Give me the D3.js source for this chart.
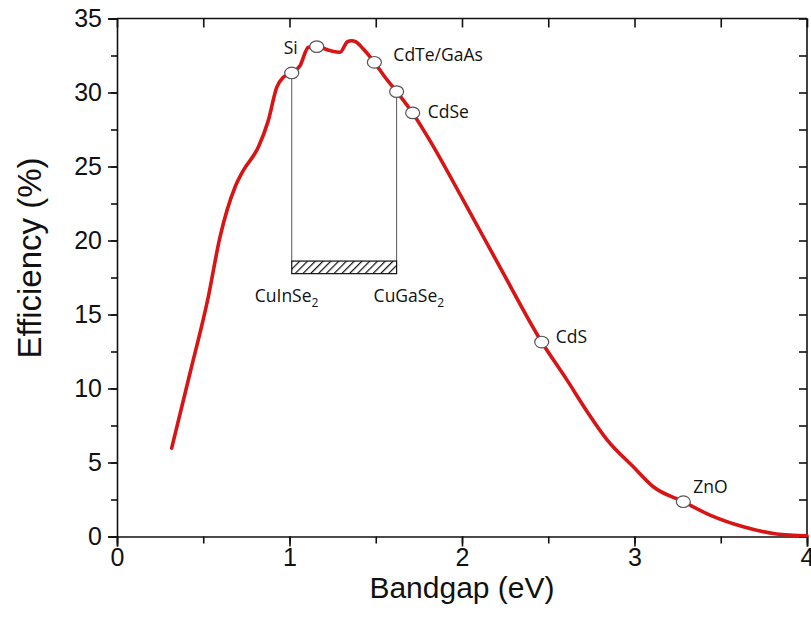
<!DOCTYPE html>
<html>
<head>
<meta charset="utf-8">
<script src="https://cdn.jsdelivr.net/npm/d3@7"></script>
<style>
  html, body { margin: 0; padding: 0; background: #fff; }
  svg { display: block; }
</style>
</head>
<body>
<svg id="chart" width="811" height="619"></svg>
<script>
// Theoretical efficiency limit vs. absorber bandgap
const bandgap = [0.317, 0.423, 0.529, 0.597, 0.684, 0.732, 0.819, 0.877, 0.926, 0.964,
  1.013, 1.061, 1.109, 1.158, 1.235, 1.293, 1.335, 1.360, 1.385, 1.428, 1.492, 1.554,
  1.621, 1.714, 1.814, 2.008, 2.220, 2.462, 2.610, 2.725, 2.840, 2.993, 3.109,
  3.283, 3.438, 3.631, 3.824, 4.0];
const efficiency = [5.97, 11.03, 16.18, 20.23, 23.60, 24.73, 26.30, 28.10, 30.35, 31.03,
  31.32, 31.81, 33.05, 33.10, 32.83, 32.72, 33.42, 33.50, 33.42, 32.94, 32.04, 31.03,
  30.06, 28.62, 26.75, 22.71, 18.20, 13.14, 10.55, 8.45, 6.55, 4.71, 3.36,
  2.35, 1.45, 0.66, 0.17, 0.05];

// Materials marked on the curve
const materialNames = ["CuInSe2", "Si", "CdTe/GaAs", "CuGaSe2", "CdSe", "CdS", "ZnO"];
const materialGap = [1.013, 1.158, 1.492, 1.621, 1.714, 2.462, 3.283];
const materialEff = [31.32, 33.10, 32.04, 30.06, 28.62, 13.14, 2.35];

// CIGS alloy range (bandgap span and efficiency band of the hatched bar)
const alloyRange = [1.013, 1.621];
const alloyBand = [17.76, 18.61];

const xTicks = [0, 1, 2, 3, 4];
const yTicks = [0, 5, 10, 15, 20, 25, 30, 35];

const W = 811, H = 619;
const m = { left: 117, right: 4, top: 18.5, bottom: 82.5 };
const x = d3.scaleLinear().domain([0, 4]).range([m.left, W - m.right]);
const y = d3.scaleLinear().domain([0, 35]).range([H - m.bottom, m.top]);

const svg = d3.select("#chart");

// hatch pattern for the alloy bar
const defs = svg.append("defs");
const pat = defs.append("pattern")
  .attr("id", "hatch").attr("patternUnits", "userSpaceOnUse")
  .attr("width", 5.5).attr("height", 5.5)
  .attr("patternTransform", "rotate(45)");
pat.append("rect").attr("width", 5.5).attr("height", 5.5).attr("fill", "#fff");
pat.append("line").attr("x1", 0).attr("y1", 0).attr("x2", 0).attr("y2", 5.5)
  .attr("stroke", "#111").attr("stroke-width", 2.4);

const axisFont = "'Liberation Sans', Arial, sans-serif";
const labelFont = "'Open Sans', 'Noto Sans', sans-serif";

// axes: bottom and left with labels, top and right inward ticks only
const xMinor = d3.range(0, 4.01, 0.5);
const yMinor = d3.range(0, 35.01, 2.5);

const gx = svg.append("g").attr("transform", `translate(0,${y(0)})`)
  .call(d3.axisBottom(x).tickValues(xMinor).tickSize(7).tickFormat(""));
const gxMaj = svg.append("g").attr("transform", `translate(0,${y(0)})`)
  .call(d3.axisBottom(x).tickValues(xTicks).tickSize(10).tickPadding(2).tickFormat(d3.format("d")));
const gy = svg.append("g").attr("transform", `translate(${x(0)},0)`)
  .call(d3.axisLeft(y).tickValues(yMinor).tickSize(6).tickFormat(""));
const gyMaj = svg.append("g").attr("transform", `translate(${x(0)},0)`)
  .call(d3.axisLeft(y).tickValues(yTicks).tickSize(9).tickPadding(6).tickFormat(d3.format("d")));
const gt = svg.append("g").attr("transform", `translate(0,${y(35)})`)
  .call(d3.axisBottom(x).tickValues(xMinor).tickSize(9).tickFormat(""));
const gr = svg.append("g").attr("transform", `translate(${x(4)},0)`)
  .call(d3.axisLeft(y).tickValues(yMinor).tickSize(8).tickFormat(""));

[gx, gxMaj, gy, gyMaj, gt, gr].forEach(g => {
  g.select(".domain").attr("stroke", "#111").attr("stroke-width", 1.6);
  g.selectAll(".tick line").attr("stroke", "#111").attr("stroke-width", 1.6);
  g.selectAll("text").attr("fill", "#111")
    .style("font-family", axisFont).style("font-size", "25px");
});
gt.select(".domain").attr("d", `M${x(0)},0H${x(4)}`);
gr.select(".domain").attr("d", `M0,${y(0)}V${y(35)}`);
gx.select(".domain").remove();
gy.select(".domain").remove();

// axis titles
svg.append("text")
  .attr("x", (x(0) + x(4)) / 2).attr("y", 598)
  .attr("text-anchor", "middle")
  .style("font-family", axisFont).style("font-size", "30px").attr("fill", "#111")
  .text("Bandgap (eV)");
svg.append("text")
  .attr("transform", `translate(41,258) rotate(-90)`)
  .attr("text-anchor", "middle")
  .style("font-family", axisFont).style("font-size", "33px").attr("fill", "#111")
  .text("Efficiency (%)");

// drop lines from the alloy end members to the bar
const ends = [0, 3];
svg.append("g").selectAll("line").data(ends).join("line")
  .attr("x1", i => x(materialGap[i])).attr("x2", i => x(materialGap[i]))
  .attr("y1", i => y(materialEff[i])).attr("y2", y(alloyBand[1]))
  .attr("stroke", "#555").attr("stroke-width", 1);

svg.append("rect")
  .attr("x", x(alloyRange[0])).attr("y", y(alloyBand[1]))
  .attr("width", x(alloyRange[1]) - x(alloyRange[0]))
  .attr("height", y(alloyBand[0]) - y(alloyBand[1]))
  .attr("fill", "url(#hatch)").attr("stroke", "#111").attr("stroke-width", 1.2);

// efficiency curve
const pts = bandgap.map((b, i) => [b, efficiency[i]]);
svg.append("path").datum(pts)
  .attr("d", d3.line().x(d => x(d[0])).y(d => y(d[1])).curve(d3.curveMonotoneX))
  .attr("fill", "none").attr("stroke", "#d81414").attr("stroke-width", 3.6)
  .attr("stroke-linejoin", "round").attr("stroke-linecap", "round");

// markers
svg.append("g").selectAll("ellipse").data(materialNames.map((n, i) => i)).join("ellipse")
  .attr("cx", i => x(materialGap[i])).attr("cy", i => y(materialEff[i]))
  .attr("rx", 7).attr("ry", 5.8)
  .attr("fill", "#fff").attr("stroke", "#555").attr("stroke-width", 1.2);

// material labels: offsets relative to each marker (px)
const labelPlace = {
  "CuInSe2":   { dx: -37, dy: 229, anchor: "start" },
  "Si":        { dx: -19, dy: 7,   anchor: "end" },
  "CdTe/GaAs": { dx: 19,  dy: -1,  anchor: "start" },
  "CuGaSe2":   { dx: -23, dy: 210, anchor: "start" },
  "CdSe":      { dx: 15,  dy: 5,   anchor: "start" },
  "CdS":       { dx: 14,  dy: 1,   anchor: "start" },
  "ZnO":       { dx: 10,  dy: -9,  anchor: "start" }
};
const lab = svg.append("g").style("font-family", labelFont).style("font-size", "17.5px")
  .attr("fill", "#111");
materialNames.forEach((name, i) => {
  const p = labelPlace[name];
  const t = lab.append("text")
    .attr("x", x(materialGap[i]) + p.dx).attr("y", y(materialEff[i]) + p.dy)
    .attr("text-anchor", p.anchor);
  const sub = name.match(/^(.*?)(\d)$/);
  if (sub) {
    t.append("tspan").text(sub[1]);
    t.append("tspan").attr("dy", 5).style("font-size", "12px").text(sub[2]);
  } else {
    t.text(name);
  }
});
</script>
</body>
</html>
